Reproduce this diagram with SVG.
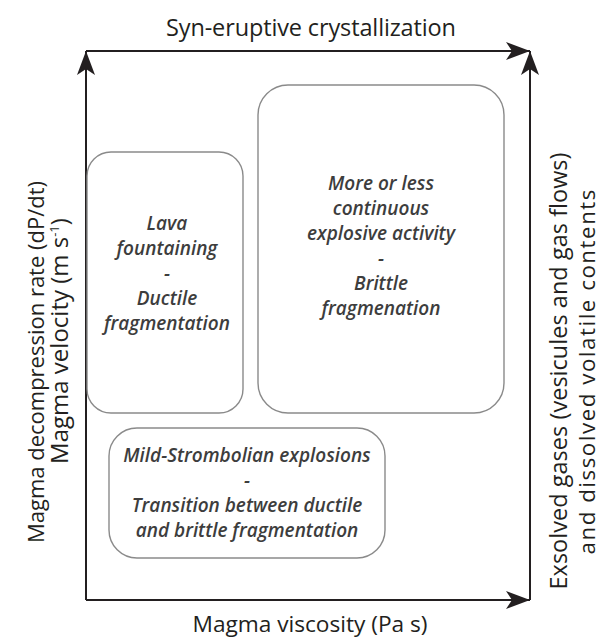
<svg xmlns="http://www.w3.org/2000/svg" width="603" height="639" viewBox="0 0 603 639">
  <style>
    .axis { stroke: #231f20; stroke-width: 2; fill: none; }
    .box { fill: #ffffff; stroke: #8a8a8a; stroke-width: 1.4; }
    .lbl { font-family: "Open Sans", "Liberation Sans", sans-serif; fill: #231f20; text-anchor: middle; }
    .btxt { font-family: "Open Sans", "Liberation Sans", sans-serif; font-size: 19px; font-style: italic; font-weight: 600; fill: #3d3d3d; text-anchor: middle; }
  </style>
  <defs>
    <marker id="arr" markerUnits="userSpaceOnUse" viewBox="0 0 24 18" refX="24" refY="9" markerWidth="24" markerHeight="18" orient="auto">
      <path d="M24,9 L0,0 L6,9 L0,18 Z" fill="#231f20"/>
    </marker>
  </defs>
  <rect width="603" height="639" fill="#ffffff"/>

  <g id="connectors">
    <line class="axis" x1="86" y1="600" x2="86" y2="51" marker-end="url(#arr)"/>
    <line class="axis" x1="86" y1="51" x2="530" y2="51" marker-end="url(#arr)"/>
    <line class="axis" x1="530" y1="600" x2="530" y2="51" marker-end="url(#arr)"/>
    <line class="axis" x1="86" y1="600" x2="530" y2="600" marker-end="url(#arr)"/>
  </g>

  <g id="label-top"><text class="lbl" x="311" y="36" style="font-size:23.5px" textLength="290">Syn-eruptive crystallization</text></g>
  <g id="label-bottom"><text class="lbl" x="310" y="632" style="font-size:22.7px" textLength="235">Magma viscosity (Pa s)</text></g>
  <g id="label-left">
    <text class="lbl" transform="translate(44,362) rotate(-90)" style="font-size:22px">Magma decompression rate (dP/dt)</text>
    <text class="lbl" transform="translate(68,341) rotate(-90)" style="font-size:24px">Magma velocity (m s<tspan dy="-9" style="font-size:13px">-1</tspan><tspan dy="9">)</tspan></text>
  </g>
  <g id="label-right">
    <text class="lbl" transform="translate(567,371) rotate(-90)" style="font-size:23.4px" textLength="437">Exsolved gases (vesicules and gas flows)</text>
    <text class="lbl" transform="translate(595,372) rotate(-90)" style="font-size:22.3px" textLength="365">and dissolved volatile contents</text>
  </g>

  <g id="node-lava">
    <rect class="box" x="87" y="152" width="156" height="261" rx="24"/>
    <text class="btxt" x="167" y="230">Lava</text>
    <text class="btxt" x="167" y="255">fountaining</text>
    <text class="btxt" x="167" y="280">-</text>
    <text class="btxt" x="167" y="305">Ductile</text>
    <text class="btxt" x="167" y="330">fragmentation</text>
  </g>

  <g id="node-explosive">
    <rect class="box" x="258" y="85" width="246" height="328" rx="30"/>
    <text class="btxt" x="381" y="190">More or less</text>
    <text class="btxt" x="381" y="215">continuous</text>
    <text class="btxt" x="381" y="240">explosive activity</text>
    <text class="btxt" x="381" y="265">-</text>
    <text class="btxt" x="381" y="290">Brittle</text>
    <text class="btxt" x="381" y="315">fragmenation</text>
  </g>

  <g id="node-strombolian">
    <rect class="box" x="109" y="428" width="276" height="130" rx="28"/>
    <text class="btxt" x="247" y="462">Mild-Strombolian explosions</text>
    <text class="btxt" x="247" y="487">-</text>
    <text class="btxt" x="247" y="512">Transition between ductile</text>
    <text class="btxt" x="247" y="537">and brittle fragmentation</text>
  </g>
</svg>
